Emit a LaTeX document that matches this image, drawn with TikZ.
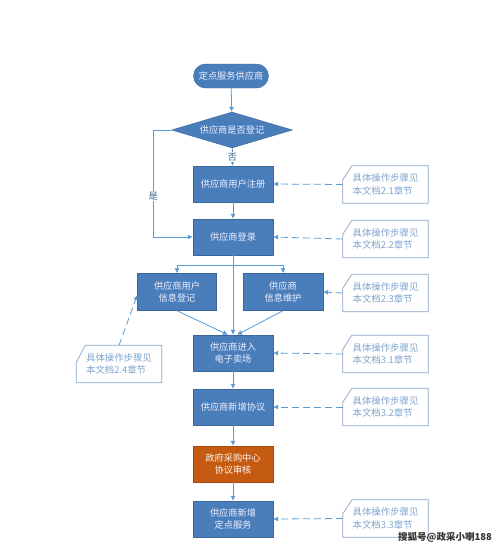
\documentclass[tikz,border=0pt]{standalone}
\usepackage{fontspec}
\setmainfont{Noto Sans CJK SC}
\usetikzlibrary{arrows.meta,shapes.geometric}
\definecolor{boxfill}{HTML}{4A7EBB}
\definecolor{boxline}{HTML}{3A6799}
\definecolor{orfill}{HTML}{C55A11}
\definecolor{orline}{HTML}{A34A0E}
\definecolor{conn}{HTML}{5B9BD5}
\definecolor{cotext}{HTML}{7FA5CF}
\definecolor{coline}{HTML}{8CA6C6}
\tikzset{
  txt/.style={font=\fontsize{9.2}{12.5}\selectfont},
  proc/.style={txt, draw=boxline, fill=boxfill, text=white!94!blue, minimum width=80pt, minimum height=36pt, inner sep=0pt, align=center},
  audit/.style={proc, draw=orline, fill=orfill, text=white!94!orange},
  term/.style={proc, minimum width=75pt, minimum height=24pt, rounded corners=12pt},
  decide/.style={txt, diamond, draw=boxline, fill=boxfill, text=white!94!blue, minimum width=121pt, minimum height=36pt, aspect=3.36, inner sep=0pt},
  note/.style={font=\fontsize{9.4}{12.5}\selectfont, rectangle, text=cotext, minimum width=85pt, minimum height=37pt, inner sep=0pt, align=left},
  noteline/.style={draw=coline, line width=0.7pt},
  arr/.style={draw=conn, line width=0.8pt, -{Latex[length=5pt,width=5pt]}},
  darr/.style={arr, dash pattern=on 7pt off 4pt},
  lab/.style={txt, text=boxline, fill=white, inner sep=1pt}
}
\newcommand\notebox[2]{\draw[noteline] ([yshift=-#2pt]#1.north west) -- ([xshift=9pt]#1.north west) -- (#1.north east) -- (#1.south east) -- (#1.south west) -- cycle;}
\begin{document}
\begin{tikzpicture}[x=1pt,y=-1pt]
\useasboundingbox (0,0) rectangle (500,547);
\fill[white] (0,0) rectangle (500,547);

\node[term] (start) at (231,76) {定点服务供应商};
\node[decide] (dia) at (232,130) {供应商是否登记};
\node[proc] (reg) at (233,184) {供应商用户注册};
\node[proc] (login) at (233,237) {供应商登录};
\node[proc, minimum width=79pt, minimum height=37pt] (infoL) at (177,292) {供应商用户\\信息登记};
\node[proc, minimum height=37pt] (infoR) at (283,292) {供应商\\信息维护};
\node[proc] (market) at (233,353) {供应商进入\\电子卖场};
\node[proc] (agree) at (233,407) {供应商新增协议};
\node[audit] (aud) at (233,464) {政府采购中心\\协议审核};
\node[proc] (final) at (233,519) {供应商新增\\定点服务};

\node[note] (c1) at (385.5,184.5) {具体操作步骤见\\本文档2.1章节};
\node[note] (c2) at (385.5,239) {具体操作步骤见\\本文档2.2章节};
\node[note] (c3) at (385.5,293) {具体操作步骤见\\本文档2.3章节};
\node[note] (c4) at (119,364) {具体操作步骤见\\本文档2.4章节};
\node[note] (c5) at (385.5,354) {具体操作步骤见\\本文档3.1章节};
\node[note] (c6) at (385.5,407) {具体操作步骤见\\本文档3.2章节};
\node[note] (c7) at (385.5,518.5) {具体操作步骤见\\本文档3.3章节};
\notebox{c1}{14}
\notebox{c2}{14}
\notebox{c3}{14}
\notebox{c4}{17}
\notebox{c5}{14}
\notebox{c6}{14}
\notebox{c7}{14}

\draw[arr] (start) -- (dia);
\draw[arr] (dia) -- (reg) node[lab, midway] {否};
\draw[arr] (dia.west) -- ++(-18,0) |- (login.west) node[lab, pos=0.31] {是};
\draw[arr] (reg) -- (login);
\draw[arr] (login.south) -- ++(0,10) -| (infoL.north);
\draw[arr] (login.south) -- ++(0,10) -| (infoR.north);
\draw[arr] (login.south) -- (market.north);
\draw[arr] (infoL.south) -- ([xshift=-5pt]market.north);
\draw[arr] (infoR.south) -- ([xshift=4pt]market.north);
\draw[arr] (market) -- (agree);
\draw[arr] (agree) -- (aud);
\draw[arr] (aud) -- (final);

\draw[darr] (c1.west) -- (reg.east);
\draw[darr] (c2.west) -- (login.east);
\draw[darr] (c3.west) -- (infoR.east);
\draw[darr] (c5.west) -- (market.east);
\draw[darr] (c6.west) -- (agree.east);
\draw[darr] (c7.west) -- (final.east);
\draw[darr] (c4.north) -- ([yshift=-3pt]infoL.west);

\node[font=\bfseries\fontsize{9.5}{10}\selectfont, text=black!80, inner sep=0pt] (wm) at (445,537) {搜狐号@政采小喇188};
\end{tikzpicture}
\end{document}
